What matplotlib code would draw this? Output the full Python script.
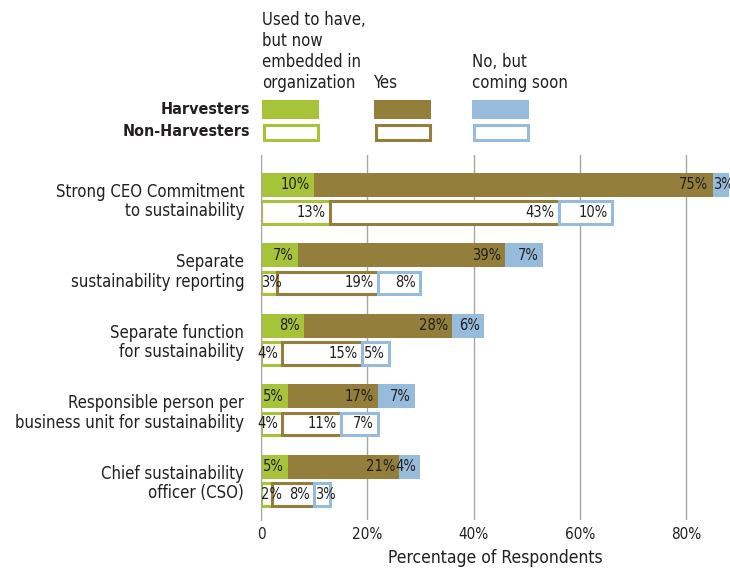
import numpy as np
import matplotlib.pyplot as plt
from matplotlib.patches import Rectangle

plt.rcParams['font.family'] = ['DejaVu Sans']
plt.rcParams['font.stretch'] = 'condensed'

categories = ["Strong CEO Commitment\nto sustainability",
              "Separate\nsustainability reporting",
              "Separate function\nfor sustainability",
              "Responsible person per\nbusiness unit for sustainability",
              "Chief sustainability\nofficer (CSO)"]
series_names = ["Used to have,\nbut now\nembedded in\norganization", "Yes", "No, but\ncoming soon"]

harv_used = [10, 7, 8, 5, 5]
harv_yes = [75, 39, 28, 17, 21]
harv_soon = [3, 7, 6, 7, 4]

non_used = [13, 3, 4, 4, 2]
non_yes = [43, 19, 15, 11, 8]
non_soon = [10, 8, 5, 7, 3]

colors = ["#a6c33a", "#937e3b", "#97bbdb"]
txt = "#231f20"

W, H = 730, 568
fig = plt.figure(figsize=(W / 100, H / 100), dpi=100)
ax = fig.add_axes([261 / W, 1 - 520 / H, (730 - 261) / W, (520 - 155) / H])

xmax = (730 - 261) / (425 / 80)
px = 425 / 80  # pixels per percent

y = np.arange(len(categories))
off = 0.195
h = 0.34


def label(seg_left, seg_w, yy):
    s = "%d%%" % seg_w
    if seg_w * px >= 20:
        ax.text(seg_left + seg_w - 4 / px, yy, s, ha="right", va="center",
                fontsize=10.5, color=txt)
    else:
        ax.text(seg_left + 0.5 / px, yy, s, ha="left", va="center",
                fontsize=10.5, color=txt)


for i in range(len(categories)):
    left = 0
    for v, c in zip([harv_used[i], harv_yes[i], harv_soon[i]], colors):
        ax.barh(y[i] - off, v, left=left, height=h, color=c, linewidth=0)
        label(left, v, y[i] - off)
        left += v
    left = 0
    for v, c in zip([non_used[i], non_yes[i], non_soon[i]], colors):
        ax.barh(y[i] + off, v, left=left, height=h * 0.93, color="white",
                edgecolor=c, linewidth=2.2)
        label(left, v, y[i] + off)
        left += v

ax.set_xlim(0, xmax)
ax.set_ylim(4.557, -0.62)
ax.set_xticks([0, 20, 40, 60, 80])
ax.set_xticklabels(["0", "20%", "40%", "60%", "80%"], fontsize=11, color=txt)
ax.set_yticks(y)
ax.set_yticklabels(categories, fontsize=12, color=txt, ha="right", linespacing=1.1)
ax.tick_params(axis="y", length=0, pad=12)
ax.tick_params(axis="x", length=0, pad=5)
ax.grid(axis="x", color="#a6a6a6", linewidth=1)
ax.set_axisbelow(True)
for s in ["top", "right", "bottom"]:
    ax.spines[s].set_visible(False)
ax.spines["left"].set_color("#a6a6a6")
ax.set_xlabel("Percentage of Respondents", fontsize=12.5, color=txt, labelpad=5)

# legend
col_x = [262, 374, 472]
for cx, c, name in zip(col_x, colors, series_names):
    fig.text(cx / W, 1 - 88 / H, name, ha="left", va="baseline", fontsize=12,
             color=txt, linespacing=1.22)
    fig.patches.append(Rectangle((cx / W, 1 - 119 / H), 57 / W, 19 / H,
                                 transform=fig.transFigure, facecolor=c, linewidth=0))
    fig.patches.append(Rectangle((cx / W + 1.5 / W, 1 - 140 / H), 54 / W, 15 / H,
                                 transform=fig.transFigure, facecolor="white",
                                 edgecolor=c, linewidth=2.2))
fig.text(250 / W, 1 - 110 / H, "Harvesters", ha="right", va="center",
         fontsize=11.5, fontweight="bold", color=txt)
fig.text(250 / W, 1 - 132 / H, "Non-Harvesters", ha="right", va="center",
         fontsize=11.5, fontweight="bold", color=txt)

fig.savefig("out.png", dpi=100)
